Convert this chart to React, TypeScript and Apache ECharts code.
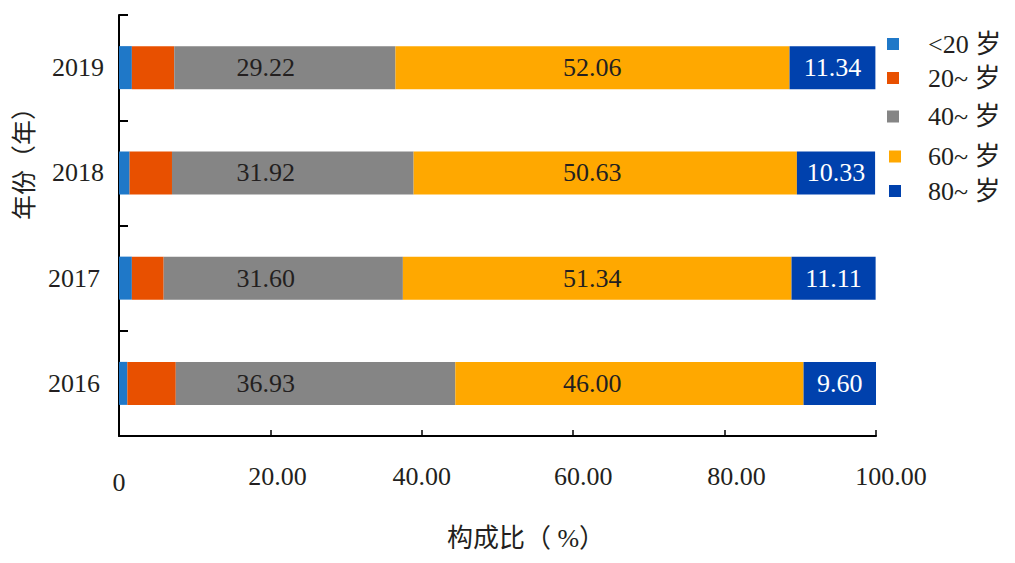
import React, { useEffect, useRef } from "react";
import * as echarts from "echarts";

const years = ["2016", "2017", "2018", "2019"];
const under20 = [1.1, 1.7, 1.4, 1.7];
const age20 = [6.4, 4.2, 5.6, 5.6];
const age40 = [36.93, 31.6, 31.92, 29.22];
const age60 = [46.0, 51.34, 50.63, 52.06];
const age80 = [9.6, 11.11, 10.33, 11.34];
const seriesNames = ["<20 岁", "20~ 岁", "40~ 岁", "60~ 岁", "80~ 岁"];
const colors = ["#1f78c8", "#e85000", "#858585", "#ffa800", "#0041ad"];
const xTicks = { min: 0, max: 100, interval: 20 };

const FONT = "'Liberation Serif','Noto Sans CJK SC',serif";
const INK = "#231f20";
const W = 1015;
const H = 563;
const GRID = { left: 119, right: 139, top: 15, bottom: 127 };
const PX_PER_UNIT = (W - GRID.left - GRID.right) / 100;
const legendTops = [44, 78, 116.5, 156.5, 191];
const legendLefts = [887, 887, 887, 889, 889];
const legendTextLeft = 928;
const yLabelPads = [
  [6, 4, 0, 0],
  [0, 4, 0, 0],
  [0, 0, 4, 0],
  [0, 0, 0, 0],
];

function barOffset(stackBefore: number, value: number, labelCenter: number) {
  return (labelCenter - (stackBefore + value / 2)) * PX_PER_UNIT;
}

export default function App() {
  const ref = useRef<HTMLDivElement>(null);
  useEffect(() => {
    const chart = echarts.init(ref.current!, null, { renderer: "svg", width: W, height: H });
    const all = [under20, age20, age40, age60, age80];
    const fixedCenters: (number | null)[] = [null, null, 19.4, 62.5, null];
    const series = all.map((vals, i) => ({
      type: "bar",
      name: seriesNames[i],
      stack: "total",
      barWidth: 43,
      itemStyle: { color: colors[i] },
      data: vals.map((v, c) => {
        const before = all.slice(0, i).reduce((s, a) => s + a[c], 0);
        const center = fixedCenters[i];
        return {
          value: v,
          label:
            i >= 2
              ? {
                  show: true,
                  position: "inside",
                  formatter: () => v.toFixed(2),
                  fontFamily: FONT,
                  fontSize: 26,
                  color: i === 4 ? "#fff" : INK,
                  offset: center === null ? [0, 0] : [barOffset(before, v, center), 0],
                }
              : { show: false },
        };
      }),
    }));
    const tickRich: Record<string, any> = {};
    const xShift: Record<number, number> = { 20: 14, 40: 0, 60: 20, 80: 24, 100: 30 };
    Object.keys(xShift).forEach((k) => {
      tickRich["t" + k] = {
        fontFamily: FONT,
        fontSize: 26,
        color: INK,
        padding: [0, 0, 0, xShift[+k]],
      };
    });
    tickRich.t0 = { fontFamily: FONT, fontSize: 26, color: INK, padding: [6, 0, 0, 0] };
    chart.setOption({
      animation: false,
      backgroundColor: "#fff",
      textStyle: { fontFamily: FONT, color: INK },
      grid: { ...GRID, containLabel: false, outerBoundsMode: "none" },
      legend: seriesNames.map((n, i) => ({
        data: [n],
        left: legendLefts[i],
        top: legendTops[i] - 13,
        itemWidth: 12,
        itemHeight: 12,
        selectedMode: false,
        padding: 0,
        icon: "rect",
        textStyle: {
          fontFamily: FONT,
          fontSize: 26,
          color: INK,
          padding: [0, 0, 0, legendTextLeft - legendLefts[i] - 12 - 5],
        },
      })),
      xAxis: {
        type: "value",
        ...xTicks,
        name: "构成比（ %）",
        nameLocation: "center",
        nameGap: 89,
        nameTextStyle: { fontFamily: FONT, fontSize: 26, color: INK, padding: [0, 0, 0, 57] },
        axisLine: { show: true, lineStyle: { color: "#000", width: 2 } },
        axisTick: { show: true, inside: true, length: 6, lineStyle: { color: "#000", width: 1.5 } },
        splitLine: { show: false },
        axisLabel: {
          fontFamily: FONT,
          fontSize: 26,
          color: INK,
          margin: 27,
          formatter: (v: number) => `{t${v}|${v === 0 ? "0" : v.toFixed(2)}}`,
          rich: tickRich,
        },
      },
      yAxis: {
        type: "category",
        data: years.map((y, i) => ({ value: y, textStyle: { padding: yLabelPads[i] } })),
        name: "年份（年）",
        nameLocation: "center",
        nameGap: 76,
        nameRotate: 90,
        nameTextStyle: { fontFamily: FONT, fontSize: 25, color: INK, padding: [0, 0, 0, 136] },
        axisLine: { show: true, lineStyle: { color: "#000", width: 2 } },
        axisTick: { show: true, inside: true, length: 9, lineStyle: { color: "#000", width: 2 } },
        axisLabel: { fontFamily: FONT, fontSize: 26, color: INK, margin: 15 },
      },
      series,
    });
    return () => chart.dispose();
  }, []);
  return <div ref={ref} style={{ position: "absolute", left: 0, top: 0, width: W, height: H }} />;
}
